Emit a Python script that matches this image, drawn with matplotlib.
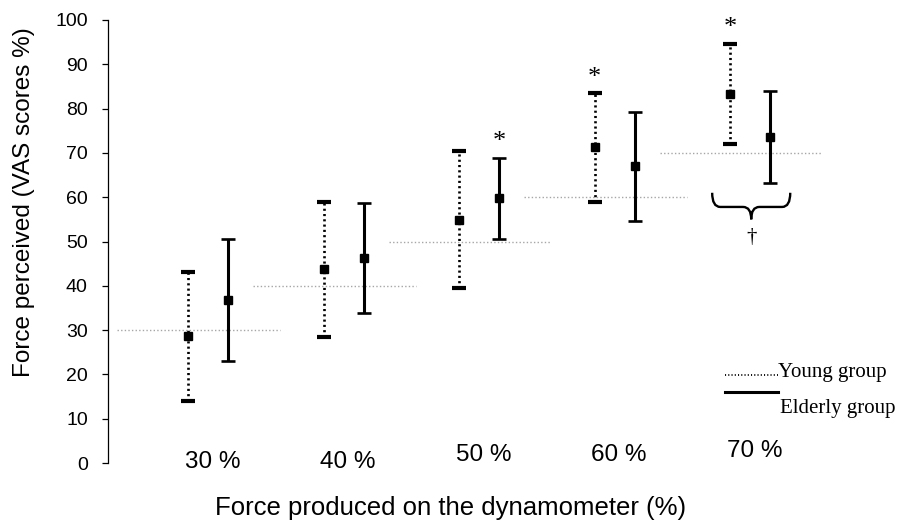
import numpy as np
import matplotlib
matplotlib.use("Agg")
import matplotlib.pyplot as plt
from matplotlib.path import Path
from matplotlib.patches import PathPatch
from matplotlib.lines import Line2D

# data
levels = ["30 %", "40 %", "50 %", "60 %", "70 %"]
target = [30, 40, 50, 60, 70]
young_mean = [28.7, 43.8, 54.9, 71.3, 83.3]
young_low = [14.0, 28.4, 39.5, 58.9, 72.0]
young_high = [43.1, 58.9, 70.4, 83.5, 94.6]
elderly_mean = [36.8, 46.3, 59.8, 67.0, 73.6]
elderly_low = [23.0, 33.9, 50.6, 54.6, 63.2]
elderly_high = [50.6, 58.7, 68.9, 79.2, 84.0]
# significance marks: (group, level index)
stars = [("elderly", 2), ("young", 3), ("young", 4)]

plt.rcParams['font.family'] = ['Liberation Sans', 'DejaVu Sans']

fig = plt.figure(figsize=(9.01, 5.29), dpi=100)
W, H = 901.0, 529.0
ax = fig.add_axes([108 / W, 66 / H, (W - 108) / W, 443 / H])

x = np.arange(len(levels))
xy = x
xe = x + 0.295

# gray dotted reference lines
for i, t in enumerate(target):
    ax.plot([xy[i] - 0.52, xy[i] + 0.68], [t, t], color='#a6a6a6', lw=1.0,
            linestyle=(0, (1, 1.6)), zorder=1)

ym = np.array(young_mean)
em = np.array(elderly_mean)
yerr = [ym - np.array(young_low), np.array(young_high) - ym]
eerr = [em - np.array(elderly_low), np.array(elderly_high) - em]

eb1 = ax.errorbar(xy, ym, yerr=yerr, fmt='s', color='black', ms=5.5,
                  elinewidth=1.9, capsize=5, capthick=3.0, zorder=3)
eb1[2][0].set_linestyle((0, (0.8, 1.2)))
ax.errorbar(xe, em, yerr=eerr, fmt='s', color='black', ms=5.5,
            elinewidth=2.2, capsize=5, capthick=1.9, zorder=3)

# asterisks
for grp, i in stars:
    if grp == "young":
        xx, top = xy[i], young_high[i]
    else:
        xx, top = xe[i], elderly_high[i]
    ax.text(xx, top + 1.0, "*", ha='center', va='bottom', fontsize=19,
            family=['Liberation Serif'])

# brace under the 70 % pair
b0, b1, bm = 4 - 0.133, 4 + 0.443, 4 + 0.155
ytop, ymid, ytip = 61.0, 57.8, 55.0
verts = [(b0, ytop), (b0, ymid), (b0 + 0.06, ymid),
         (bm - 0.06, ymid), (bm, ymid), (bm, ytip),
         (bm, ymid), (bm + 0.06, ymid),
         (b1 - 0.06, ymid), (b1, ymid), (b1, ytop)]
codes = [Path.MOVETO, Path.CURVE3, Path.CURVE3,
         Path.LINETO, Path.CURVE3, Path.CURVE3,
         Path.CURVE3, Path.CURVE3,
         Path.LINETO, Path.CURVE3, Path.CURVE3]
ax.add_patch(PathPatch(Path(verts, codes), fill=False, lw=1.7,
                       edgecolor='black', zorder=3))
ax.text(bm, 51.0, "\u2020", ha='center', va='center', fontsize=15,
        family=['Liberation Serif'])

# category labels sitting at the bottom
lift = [0.2, 0.2, 1.8, 1.8, 2.6]
for i, lab in enumerate(levels):
    ax.text(xy[i] + 0.18, lift[i], lab, ha='center', va='center', fontsize=17.5)

ax.set_xlim(-0.59, 5.26)
ax.set_ylim(0, 100)
ax.set_yticks(np.arange(0, 101, 10))
ax.set_xticks([])
for s in ['top', 'right', 'bottom']:
    ax.spines[s].set_visible(False)
ax.spines['left'].set_linewidth(0.9)
ax.tick_params(axis='y', direction='out', length=4.5, width=0.9,
               labelsize=14, pad=10)

fig.text(24 / W, 1 - 202 / H, "Force perceived (VAS scores %)", rotation=90,
         ha='center', va='center', fontsize=17.5)
fig.text(451 / W, 1 - 508 / H, "Force produced on the dynamometer (%)",
         ha='center', va='center', fontsize=18.5)

# hand-made legend
fig.add_artist(Line2D([725 / W, 778 / W], [1 - 375 / H, 1 - 375 / H],
                      color='black', lw=1.3, linestyle=(0, (0.6, 1.2))))
fig.add_artist(Line2D([725 / W, 778 / W], [1 - 392 / H, 1 - 392 / H],
                      color='black', lw=2.2))
fig.text(778 / W, 1 - 373 / H, "Young group", ha='left', va='center',
         fontsize=15, family=['Liberation Serif'])
fig.text(780 / W, 1 - 409 / H, "Elderly group", ha='left', va='center',
         fontsize=15, family=['Liberation Serif'])

fig.savefig("out.png", dpi=100)
